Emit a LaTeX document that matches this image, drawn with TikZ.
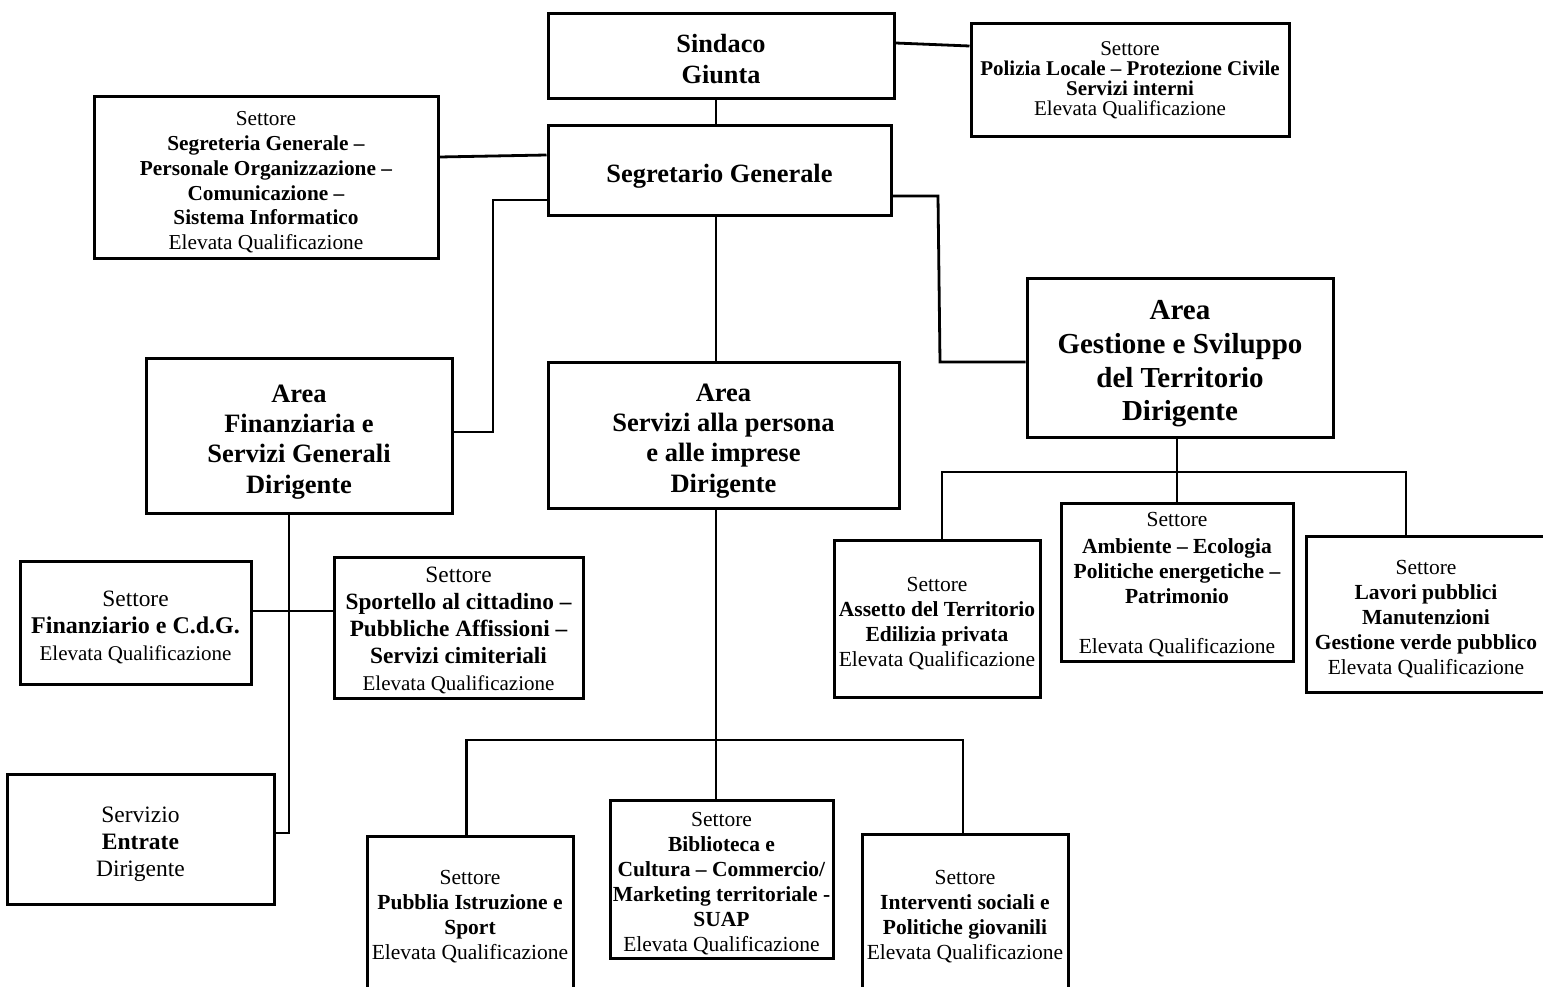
\documentclass[tikz,border=0pt]{standalone}
\usepackage{fontspec}
\setmainfont{Liberation Serif}
% raise the first line height so the text block sits a little lower in its box
\newcommand{\lowr}[1]{\rule{0pt}{\dimexpr0.69em+#1pt\relax}}
\begin{document}
\begin{tikzpicture}[x=1pt,y=-1pt,
  box/.style={draw, line width=3pt, align=center, inner sep=0pt},
  conn/.style={line width=2.8pt},
  fhead/.style={font=\fontsize{26.5}{30.3}\selectfont\bfseries},
  fset/.style={font=\fontsize{21.5}{25}\selectfont},
  fmid/.style={font=\fontsize{21}{27}\selectfont}]
\useasboundingbox (0,0) rectangle (1543,987);
\clip (0,0) rectangle (1543,987);

% top level
\node[box, font=\fontsize{26.3}{31}\selectfont\bfseries, minimum width=346pt, minimum height=85pt] (sind) at (721,56.5) {\lowr{6}Sindaco\\Giunta};
\node[box, font=\fontsize{21}{20}\selectfont, minimum width=318pt, minimum height=113pt] (poli) at (1130,80.5)
  {Settore\\\textbf{Polizia Locale -- Protezione Civile}\\\textbf{Servizi interni}\\Elevata Qualificazione};
\node[box, font=\fontsize{21.3}{24.8}\selectfont, minimum width=344pt, minimum height=162pt] (segr) at (266,178)
  {\lowr{8}Settore\\\textbf{Segreteria Generale --}\\\textbf{Personale Organizzazione --}\\\textbf{Comunicazione --}\\\textbf{Sistema Informatico}\\Elevata Qualificazione};
\node[box, font=\fontsize{26.4}{31}\selectfont\bfseries, minimum width=343pt, minimum height=90pt] (sg) at (719.5,171) {\lowr{10}Segretario Generale};

% areas
\node[box, fhead, minimum width=306pt, minimum height=155pt] (afin) at (299,435.5)
  {\lowr{12}Area\\Finanziaria e\\Servizi Generali\\Dirigente};
\node[box, fhead, minimum width=351pt, minimum height=146pt] (aser) at (723.5,435)
  {\lowr{11}Area\\Servizi alla persona\\e alle imprese\\Dirigente};
\node[box, font=\fontsize{29}{33.7}\selectfont\bfseries, minimum width=306pt, minimum height=158pt] (ages) at (1180,358)
  {\lowr{11}Area\\Gestione e Sviluppo\\del Territorio\\Dirigente};

% left branch
\node[box, fmid, minimum width=231pt, minimum height=123pt] (fin) at (135.5,622.5)
  {{\fontsize{23.4}{27}\selectfont\lowr{9}Settore}\\{\fontsize{24}{27}\selectfont\bfseries Finanziario e C.d.G.}\\Elevata Qualificazione};
\node[box, fmid, minimum width=249pt, minimum height=141pt] (spor) at (458.5,627.5)
  {{\fontsize{23.4}{27}\selectfont\lowr{6}Settore}\\{\fontsize{23.3}{27}\selectfont\bfseries Sportello al cittadino --}\\{\fontsize{23.3}{27}\selectfont\bfseries Pubbliche Affissioni --}\\{\fontsize{23.3}{27}\selectfont\bfseries Servizi cimiteriali}\\Elevata Qualificazione};
\node[box, font=\fontsize{23.5}{27}\selectfont, minimum width=267pt, minimum height=130pt] (entr) at (140.5,839)
  {\lowr{10}Servizio\\\textbf{Entrate}\\Dirigente};

% middle branch
\node[box, fset, minimum width=206pt, minimum height=157pt] (pubb) at (470,914.5)
  {\lowr{4}Settore\\\textbf{Pubblia Istruzione e}\\\textbf{Sport}\\Elevata Qualificazione};
\node[box, fset, minimum width=223pt, minimum height=158pt] (bibl) at (721.5,879)
  {\lowr{8}Settore\\\textbf{Biblioteca e}\\\textbf{Cultura -- Commercio/}\\\textbf{Marketing territoriale -}\\\textbf{SUAP}\\Elevata Qualificazione};
\node[box, fset, minimum width=206pt, minimum height=159pt] (inte) at (965,913.5)
  {\lowr{6}Settore\\\textbf{Interventi sociali e}\\\textbf{Politiche giovanili}\\Elevata Qualificazione};

% right branch
\node[box, fset, minimum width=206pt, minimum height=157pt] (asse) at (937,618.5)
  {\lowr{10}Settore\\\textbf{Assetto del Territorio}\\\textbf{Edilizia privata}\\Elevata Qualificazione};
\node[box, fset, minimum width=232pt, minimum height=158pt] (ambi) at (1177,582)
  {\lowr{4}Settore\\[2pt]\textbf{Ambiente -- Ecologia}\\\textbf{Politiche energetiche --}\\\textbf{Patrimonio}\\[25pt]Elevata Qualificazione};
\node[box, fset, minimum width=240pt, minimum height=156pt] (lavo) at (1426,614)
  {\lowr{9}Settore\\\textbf{Lavori pubblici}\\\textbf{Manutenzioni}\\\textbf{Gestione verde pubblico}\\Elevata Qualificazione};

% connector helper coordinates
\coordinate (xa) at (716,0);
\coordinate (p1) at (0,43);
\coordinate (p2) at (0,46);
\coordinate (s1) at (0,157);
\coordinate (s2) at (0,155);
\coordinate (f1) at (493,200);
\coordinate (f2) at (493,432);
\coordinate (g1) at (938,196);
\coordinate (g2) at (940,362);
\coordinate (h1) at (289,833);
\coordinate (h2) at (289,611);
\coordinate (kl) at (466.5,740);
\coordinate (kr) at (963,740);
\coordinate (nx) at (1177,0);
\coordinate (nl) at (942,472);
\coordinate (nr) at (1406,472);

% connectors
\draw[conn] (sind.south -| xa) -- (sg.north -| xa);
\draw[conn] (sind.east |- p1) -- (poli.west |- p2);
\draw[conn] (segr.east |- s1) -- (sg.west |- s2);
\draw[conn] (sg.west |- f1) -- (f1) -- (f2) -- (afin.east |- f2);
\draw[conn] (sg.east |- g1) -- (g1) -- (g2) -- (ages.west |- g2);
\draw[conn] (sg.south -| xa) -- (aser.north -| xa);
\draw[conn] (afin.south -| h1) -- (h1) -- (entr.east |- h1);
\draw[conn] (fin.east |- h2) -- (spor.west |- h2);
\draw[conn] (aser.south -| xa) -- (bibl.north -| xa);
\draw[conn] (pubb.north -| kl) -- (kl) -- (kr) -- (inte.north -| kr);
\draw[conn] (ages.south -| nx) -- (ambi.north -| nx);
\draw[conn] (asse.north -| nl) -- (nl) -- (nr) -- (lavo.north -| nr);
\end{tikzpicture}
\end{document}
